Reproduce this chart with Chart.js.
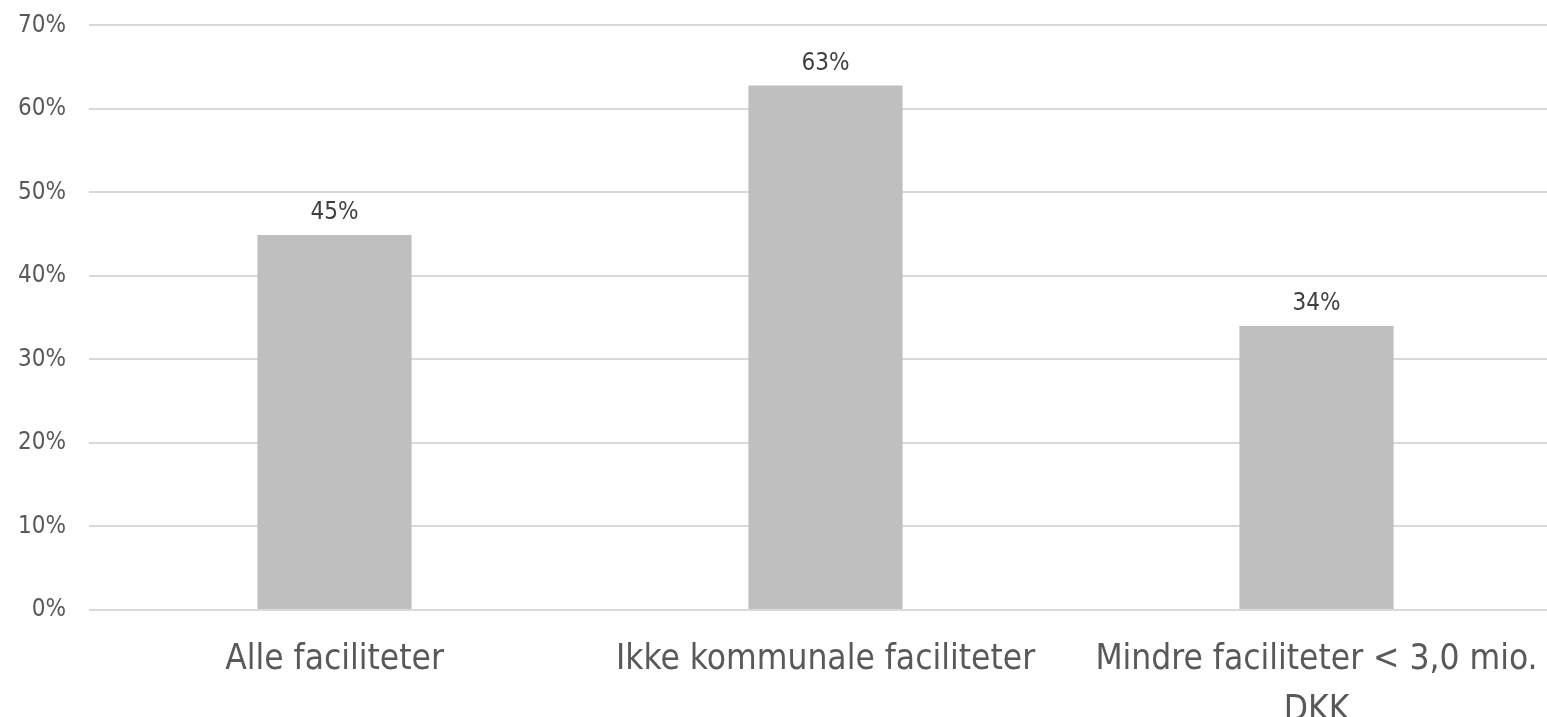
<!DOCTYPE html>
<html>
<head>
<meta charset="utf-8">
<script src="https://cdn.jsdelivr.net/npm/chart.js@4.4.0/dist/chart.umd.min.js"></script>
<style>
    html, body { margin: 0; padding: 0; background: #fff; overflow: hidden; }
    #wrap { width: 1547px; height: 717px; overflow: hidden; }
    #box { width: 1565px; height: 730px; margin-top: -12px; }
</style>
</head>
<body>
<div id="wrap"><div id="box"><canvas id="chart"></canvas></div></div>
<script>
// Kategorier og værdier (andel i %)
const kategorier = [
    'Alle faciliteter',
    'Ikke kommunale faciliteter',
    ['Mindre faciliteter < 3,0 mio.', 'DKK']
];
const andele = [44.9, 62.8, 34.0];
const yTicks = [0, 10, 20, 30, 40, 50, 60, 70];

const skrift = "'DejaVu Sans Condensed', 'DejaVu Sans', sans-serif";

// Tal over søjlerne
const vaerdiEtiketter = {
    id: 'vaerdiEtiketter',
    afterDatasetsDraw(chart) {
        const ctx = chart.ctx;
        const meta = chart.getDatasetMeta(0);
        ctx.save();
        ctx.font = '24px ' + skrift;
        ctx.fillStyle = '#404040';
        ctx.textAlign = 'center';
        ctx.textBaseline = 'alphabetic';
        meta.data.forEach((bar, i) => {
            ctx.fillText(Math.round(andele[i]) + '%', bar.x, bar.y - 16);
        });
        ctx.restore();
    }
};

new Chart(document.getElementById('chart').getContext('2d'), {
    type: 'bar',
    data: {
        labels: kategorier,
        datasets: [{
            data: andele,
            backgroundColor: '#bfbfbf',
            borderWidth: 0,
            barPercentage: 1,
            categoryPercentage: 0.314
        }]
    },
    options: {
        responsive: true,
        maintainAspectRatio: false,
        animation: false,
        layout: { padding: { top: 10, right: 3, left: 0, bottom: 0 } },
        plugins: {
            legend: { display: false },
            tooltip: { enabled: false }
        },
        scales: {
            x: {
                grid: { display: false, drawTicks: false },
                border: { display: false },
                ticks: {
                    color: '#595959',
                    font: { family: skrift, size: 35, lineHeight: 1.45 },
                    padding: 25,
                    maxRotation: 0,
                    autoSkip: false
                },
                afterFit(scale) { scale.height = 108; }
            },
            y: {
                min: 0,
                max: 70,
                afterBuildTicks(scale) {
                    scale.ticks = yTicks.map(v => ({ value: v }));
                },
                grid: { color: '#d9d9d9', lineWidth: 2, drawTicks: false },
                border: { display: false },
                ticks: {
                    color: '#595959',
                    font: { family: skrift, size: 24 },
                    padding: 23,
                    callback: v => v + '%'
                },
                afterFit(scale) { scale.width = 89; }
            }
        }
    },
    plugins: [vaerdiEtiketter]
});
</script>
</body>
</html>
